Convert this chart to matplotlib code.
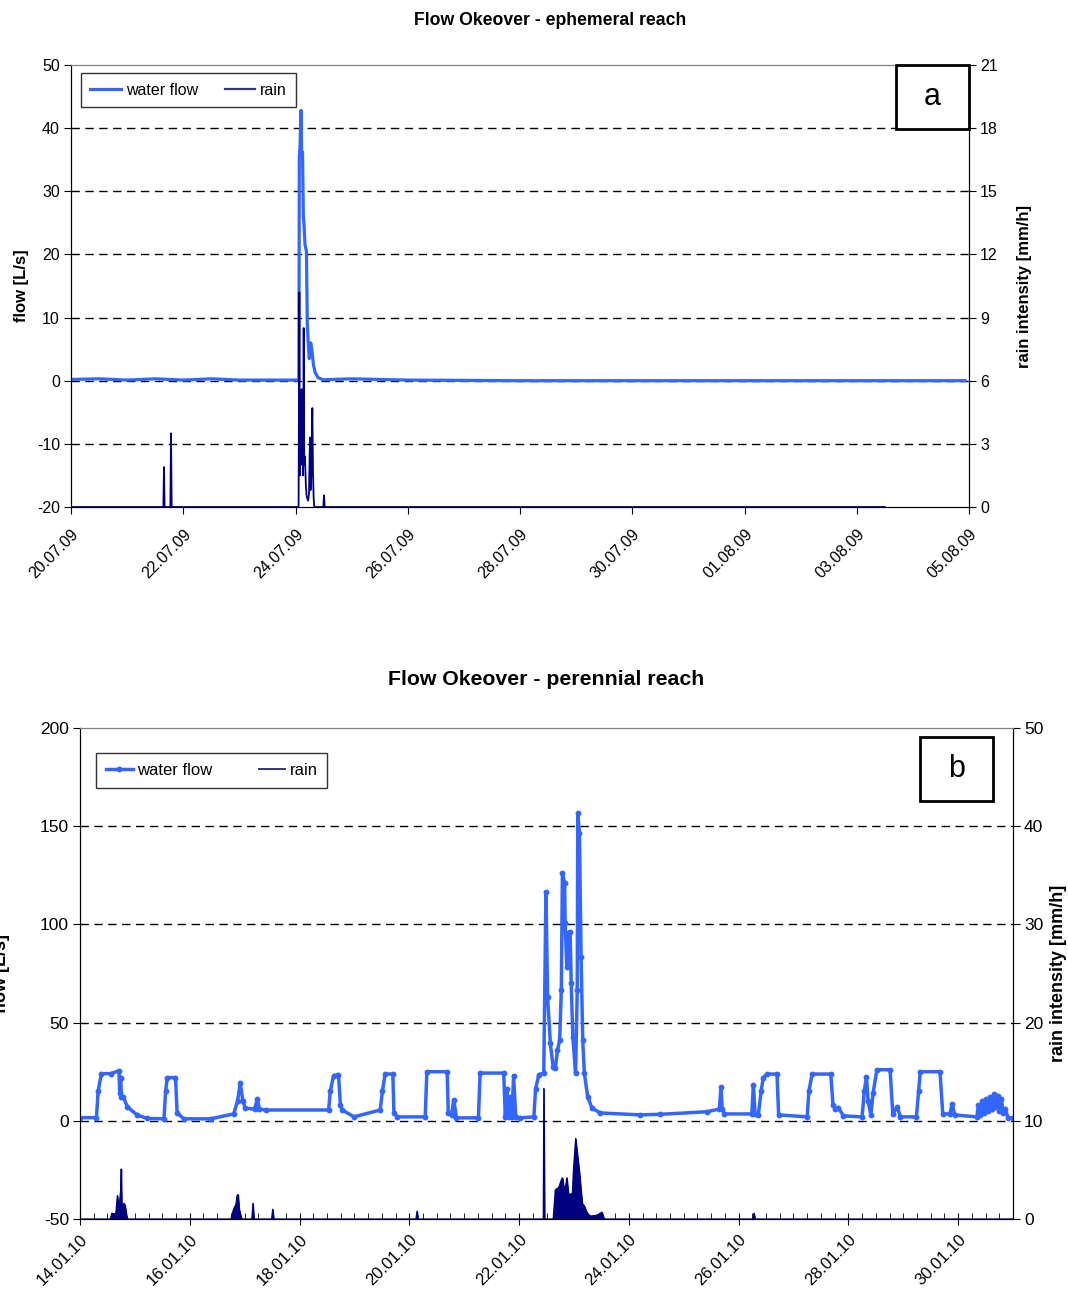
import matplotlib
matplotlib.use("Agg")
import matplotlib.pyplot as plt
import matplotlib.dates as mdates
from matplotlib.patches import Rectangle
from matplotlib.lines import Line2D
import pandas as pd

plt.rcParams['font.family'] = ['Liberation Sans', 'DejaVu Sans']
plt.rcParams['axes.unicode_minus'] = False

FLOW_C = '#3366ff'
RAIN_C = '#000080'

# ---- panel a : ephemeral reach (days after 20.07.09 00:00) ----
start_a = pd.Timestamp('2009-07-20')
flow_a_day = [0, 0.5, 1.0, 1.5, 2.0, 2.5, 3.0, 3.5, 4.06, 4.068, 4.080, 4.098, 4.110,
              4.125, 4.140, 4.150, 4.170, 4.195, 4.210, 4.230, 4.245, 4.270, 4.290,
              4.320, 4.350, 4.400, 4.490, 5.0, 6.0, 8.0, 10.0, 12.0, 14.0, 15.93]
flow_a_val = [0.2, 0.3, 0.1, 0.3, 0.1, 0.3, 0.1, 0.1, 0.1, 35.5, 37.0, 42.8, 35.8,
              36.2, 26.0, 25.0, 21.5, 20.5, 9.0, 5.4, 3.5, 6.0, 5.0,
              2.5, 1.3, 0.5, 0.15, 0.3, 0.1, 0.0, 0.0, 0.0, 0.0, 0.0]
rain_a_day = [0, 1.645, 1.657, 1.668, 1.770, 1.782, 1.794, 4.055, 4.068, 4.076, 4.088,
              4.098, 4.110, 4.118, 4.126, 4.136, 4.146, 4.156, 4.169, 4.185, 4.199,
              4.225, 4.240, 4.258, 4.268, 4.280, 4.300, 4.312, 4.324, 4.335, 4.495,
              4.508, 4.520, 14.5]
rain_a_val = [0, 0, 1.9, 0, 0, 3.5, 0, 0, 10.2, 1.5, 4.0,
              2.5, 5.6, 2.0, 4.0, 1.5, 8.5, 2.0, 2.4, 1.0, 0.5,
              0.3, 0.6, 3.3, 0.8, 1.5, 4.7, 1.6, 0.4, 0, 0,
              0.55, 0, 0]

# ---- panel b : perennial reach (days after 14.01.10 00:00) ----
start_b = pd.Timestamp('2010-01-14')
flow_b_day = [0.0, 0.30, 0.33, 0.39, 0.56, 0.71, 0.725, 0.74, 0.755, 0.79, 0.865, 1.04,
              1.22, 1.53, 1.56, 1.59, 1.74, 1.77, 1.89, 2.38, 2.80, 2.87, 2.92, 2.97,
              3.01, 3.18, 3.23, 3.27, 3.38, 4.53, 4.56, 4.62, 4.71, 4.745, 4.78, 4.99,
              5.47, 5.51, 5.56, 5.70, 5.72, 5.78, 6.29, 6.32, 6.69, 6.71, 6.77, 6.81,
              6.86, 7.26, 7.29, 7.72, 7.75, 7.78, 7.81, 7.84, 7.87, 7.90, 7.94, 8.02,
              8.27, 8.30, 8.36, 8.45, 8.49, 8.52, 8.57, 8.62, 8.66, 8.70, 8.74, 8.77,
              8.79, 8.83, 8.84, 8.87, 8.90, 8.93, 8.95, 8.98, 9.03, 9.06, 9.07, 9.10,
              9.13, 9.16, 9.19, 9.25, 9.33, 9.48, 10.21, 10.57, 11.42, 11.65, 11.68,
              11.70, 11.74, 12.24, 12.27, 12.30, 12.36, 12.41, 12.45, 12.52, 12.70,
              12.73, 13.25, 13.28, 13.34, 13.68, 13.72, 13.76, 13.82, 13.91, 14.25,
              14.29, 14.33, 14.36, 14.41, 14.45, 14.52, 14.76, 14.81, 14.89, 14.95,
              15.24, 15.28, 15.31, 15.67, 15.72, 15.85, 15.89, 15.94, 16.34, 16.37,
              16.40, 16.44, 16.47, 16.51, 16.55, 16.59, 16.62, 16.65, 16.68, 16.72,
              16.75, 16.79, 16.82, 16.86, 16.91, 17.0]
flow_b_val = [1.6, 1.6, 15, 24, 24, 25.5, 14, 22, 12.3, 12, 7, 3,
              1.2, 1.0, 15, 22, 22, 4, 1.0, 1.0, 3.5, 10, 19, 10,
              6.4, 6, 11, 6, 5.5, 5.5, 15, 23, 23.5, 8, 5.5, 2,
              5.5, 15, 23.8, 23.8, 4, 2, 2, 25, 25, 4, 3, 10.8,
              1.5, 1.5, 24.3, 24.3, 2, 16, 2, 12, 2, 23, 2, 1.5,
              2, 16, 23.5, 24.2, 116.6, 63, 39.5, 27.5, 26.7, 36, 41, 66.6,
              126, 121, 100.5, 78.5, 95.5, 96.3, 70, 42.8, 24.2, 66.6, 156.6, 146.4,
              83.6, 41, 24.2, 12.3, 6.4, 4.0, 3, 3.3, 4.6, 6, 17.4,
              6, 3.5, 3.5, 18.2, 3.5, 3, 15, 22, 23.8, 23.8,
              3, 2, 15, 23.8, 23.8, 8, 6, 6.5, 2.5, 2,
              15, 22.5, 10, 3, 14, 26, 26, 3.5, 7, 2,
              2, 15, 25, 25, 3.5, 3.5, 8.5, 3, 2, 8,
              3, 10, 4, 11, 5, 12, 6, 13.5, 7, 12.5,
              5, 11, 4, 6, 1.5, 1.5]
rain_b_day = [0, 0.55, 0.58, 0.65, 0.68, 0.71, 0.74, 0.75, 0.76, 0.80, 0.82, 0.85, 0.87,
              2.75, 2.78, 2.81, 2.84, 2.86, 2.88, 2.90, 2.93, 2.95, 3.13, 3.15, 3.17,
              3.49, 3.51, 3.53, 6.12, 6.14, 6.16, 8.44, 8.45, 8.465, 8.62, 8.66, 8.72,
              8.77, 8.79, 8.83, 8.87, 8.90, 8.97, 8.99, 9.03, 9.06, 9.10, 9.15, 9.19,
              9.24, 9.30, 9.42, 9.51, 9.55, 12.26, 12.28, 12.30, 17.0]
rain_b_val = [0, 0, 0.6, 0.5, 2.4, 1.0, 3.0, 5.1, 1.5, 1.6, 1.4, 0.3, 0,
              0, 0.7, 1.2, 1.5, 2.4, 2.5, 1.0, 0.3, 0, 0, 1.6, 0,
              0, 1.0, 0, 0, 0.8, 0, 0, 13.3, 0, 0, 3.0, 3.2,
              4.0, 4.2, 2.7, 4.2, 2.5, 2.6, 5.0, 8.2, 6.7, 4.7, 1.6, 1.3,
              0.6, 0.3, 0.4, 0.7, 0, 0, 0.6, 0, 0]


def to_dates(start, days):
    return start + pd.to_timedelta(days, unit='D')


def style_axes(ax, ax2, fs):
    for a in (ax, ax2):
        a.spines['top'].set_color('#808080')
        for s in ('left', 'right', 'bottom'):
            a.spines[s].set_color('black')
    ax.tick_params(axis='y', direction='out', length=5, labelsize=fs, pad=3)
    ax2.tick_params(axis='y', direction='out', length=5, labelsize=fs, pad=3)


def date_ticks(ax, start, fs, pad):
    ax.set_xticks(pd.date_range(start, periods=9, freq='2D'))
    ax.xaxis.set_major_formatter(mdates.DateFormatter('%d.%m.%y'))
    ax.tick_params(axis='x', labelsize=fs, pad=pad)
    for lab in ax.get_xticklabels():
        lab.set_rotation(45)
        lab.set_ha('right')
        lab.set_rotation_mode('anchor')


fig = plt.figure(figsize=(10.68, 12.92), dpi=100)

# ---------------- panel a ----------------
ax = fig.add_axes([71 / 1068, 1 - 507 / 1292, 898 / 1068, 442 / 1292])
ax2 = ax.twinx()
xa = to_dates(start_a, flow_a_day)
ra = to_dates(start_a, rain_a_day)
ax.set_ylim(-20, 50)
ax.set_yticks(range(-20, 51, 10))
for v in range(-10, 41, 10):
    ax.axhline(v, color='black', lw=1, ls=(0, (6, 4)), zorder=1)
fl, = ax.plot(xa, flow_a_val, color=FLOW_C, lw=2.3, zorder=3, label='water flow')
rl, = ax2.plot(ra, rain_a_val, color=RAIN_C, lw=1.3, label='rain')
ax2.set_ylim(0, 21)
ax2.set_yticks(range(0, 22, 3))
ax.set_xlim(start_a, start_a + pd.Timedelta(days=16))
ax.tick_params(axis='x', direction='out', length=5)
date_ticks(ax, start_a, 11.5, 9)
style_axes(ax, ax2, 11.5)
ax.set_ylabel('flow [L/s]', fontsize=12, fontweight='bold')
ax.yaxis.set_label_coords(-0.047, 0.5)
ax2.set_ylabel('rain intensity [mm/h]', fontsize=12, fontweight='bold')
ax2.yaxis.set_label_coords(1.053, 0.5)
ax.set_title('Flow Okeover - ephemeral reach', fontsize=12.7, fontweight='bold',
             pad=29, x=0.533)
leg_rain_a = Line2D([], [], color='#333399', lw=1.6)
leg = ax2.legend([fl, leg_rain_a], ['water flow', 'rain'], ncol=2, loc='upper left',
                 bbox_to_anchor=(0.011, 0.982), borderaxespad=0, fancybox=False,
                 edgecolor='black', fontsize=11.5, handlelength=1.9, handletextpad=0.3,
                 columnspacing=1.7, borderpad=0.6)
leg.get_frame().set_linewidth(1)
ax2.add_patch(Rectangle((0.919, 0.855), 0.081, 0.145, transform=ax2.transAxes,
                        fill=True, facecolor='white', edgecolor='black', lw=2, zorder=5,
                        clip_on=False))
ax2.text(0.959, 0.928, 'a', transform=ax2.transAxes, fontsize=22, ha='center',
         va='center', zorder=6)

# ---------------- panel b ----------------
bx = fig.add_axes([80 / 1068, 1 - 1219 / 1292, 933 / 1068, 491 / 1292])
bx2 = bx.twinx()
xb = to_dates(start_b, flow_b_day)
rb = to_dates(start_b, rain_b_day)
bx.set_ylim(-50, 200)
bx.set_yticks(range(-50, 201, 50))
for v in range(0, 151, 50):
    bx.axhline(v, color='black', lw=1, ls=(0, (6, 4)), zorder=1)
fl2, = bx.plot(xb, flow_b_val, color=FLOW_C, lw=2.5, marker='o', ms=3.2, zorder=3,
               label='water flow')
bx2.fill_between(rb, 0, rain_b_val, color=RAIN_C, lw=0.8)
bx2.plot(rb, rain_b_val, color=RAIN_C, lw=0.8)
bx2.set_ylim(0, 50)
bx2.set_yticks(range(0, 51, 10))
bx.set_xlim(start_b, start_b + pd.Timedelta(days=17))
bx.xaxis.set_minor_locator(mdates.HourLocator(byhour=[0, 6, 12, 18]))
bx.tick_params(axis='x', which='major', direction='inout', length=8)
bx.tick_params(axis='x', which='minor', direction='in', length=4)
date_ticks(bx, start_b, 12, 5)
style_axes(bx, bx2, 12.5)
bx.set_ylabel('flow [L/s]', fontsize=13, fontweight='bold')
bx.yaxis.set_label_coords(-0.075, 0.5)
bx2.set_ylabel('rain intensity [mm/h]', fontsize=13, fontweight='bold')
bx2.yaxis.set_label_coords(1.040, 0.5)
bx.set_title('Flow Okeover - perennial reach', fontsize=15.3, fontweight='bold', pad=31)
leg_rain_b = Line2D([], [], color='#333399', lw=1.4)
leg2 = bx2.legend([fl2, leg_rain_b], ['water flow', 'rain'], ncol=2, loc='upper left',
                  bbox_to_anchor=(0.017, 0.949), borderaxespad=0, fancybox=False,
                  edgecolor='black', fontsize=12, handlelength=1.6, handletextpad=0.25,
                  columnspacing=2.8, borderpad=0.6)
leg2.get_frame().set_linewidth(1)
bx2.add_patch(Rectangle((0.900, 0.851), 0.0786, 0.131, transform=bx2.transAxes,
                        fill=True, facecolor='white', edgecolor='black', lw=2, zorder=5))
bx2.text(0.939, 0.916, 'b', transform=bx2.transAxes, fontsize=22, ha='center',
         va='center', zorder=6)

fig.savefig('out.png', dpi=100)
